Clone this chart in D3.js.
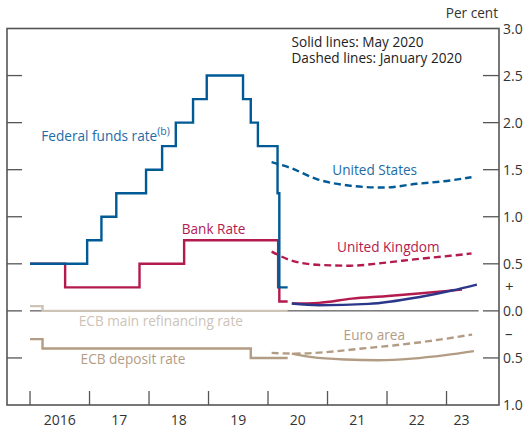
<!DOCTYPE html>
<html>
<head>
<meta charset="utf-8">
<script src="https://cdn.jsdelivr.net/npm/d3@7"></script>
<style>
  body { margin: 0; background: #fff; }
  text { font-family: "Open Sans", "Noto Sans", sans-serif; }
</style>
</head>
<body>
<div id="vis"></div>
<script>
// policy rates, [decimal year, per cent], step after
var fedFunds = [[2016.0, 0.5], [2016.96, 0.75], [2017.2, 1.0], [2017.45, 1.25], [2017.95, 1.5],
  [2018.22, 1.75], [2018.45, 2.0], [2018.74, 2.25], [2018.97, 2.5], [2019.58, 2.25],
  [2019.71, 2.0], [2019.83, 1.75], [2020.16, 1.25], [2020.19, 0.25], [2020.33, 0.25]];
var bankRate = [[2016.0, 0.5], [2016.59, 0.25], [2017.84, 0.5], [2018.59, 0.75],
  [2020.17, 0.25], [2020.19, 0.1], [2020.33, 0.1]];
var ecbMain = [[2016.0, 0.05], [2016.21, 0.0], [2020.33, 0.0]];
var ecbDeposit = [[2016.0, -0.3], [2016.21, -0.4], [2019.71, -0.5], [2020.33, -0.5]];

// market forward curves
var usJan = [[2020.06, 1.58], [2020.37, 1.52], [2020.82, 1.40], [2021.38, 1.33], [2021.94, 1.31],
  [2022.50, 1.35], [2023.06, 1.385], [2023.42, 1.42]];
var ukJan = [[2020.06, 0.63], [2020.37, 0.54], [2020.82, 0.49], [2021.38, 0.48], [2021.94, 0.51],
  [2022.50, 0.55], [2023.06, 0.585], [2023.42, 0.61]];
var euJan = [[2020.06, -0.446], [2020.46, -0.454], [2021.02, -0.436], [2021.58, -0.40],
  [2022.14, -0.365], [2022.70, -0.322], [2023.43, -0.252]];
var usMay = [[2020.40, 0.078], [2020.85, 0.06], [2021.69, 0.074], [2022.53, 0.145],
  [2023.09, 0.216], [2023.51, 0.28]];
var ukMay = [[2020.40, 0.078], [2020.85, 0.085], [2021.41, 0.13], [2021.97, 0.156],
  [2022.53, 0.184], [2023.26, 0.226]];
var euMay = [[2020.40, -0.454], [2020.74, -0.492], [2021.30, -0.517], [2021.86, -0.524],
  [2022.42, -0.507], [2022.98, -0.47], [2023.46, -0.428]];

var yTicks = [3.0, 2.5, 2.0, 1.5, 1.0, 0.5, 0.0, -0.5, -1.0];
var yTickLabels = ['3.0', '2.5', '2.0', '1.5', '1.0', '0.5', '0.0', '0.5', '1.0'];
var xTicks = [2016, 2017, 2018, 2019, 2020, 2021, 2022, 2023];
var xLabels = ['2016', '17', '18', '19', '20', '21', '22', '23'];
var xLabelPos = [2016.5, 2017.5, 2018.5, 2019.5, 2020.5, 2021.5, 2022.5, 2023.25];

var width = 528, height = 430;
var plotL = 7, plotR = 499, plotT = 28.5, plotB = 405;

var blue = '#005a96', blueText = '#1d6ca6', navy = '#2b388a', red = '#b31a4e',
  tan = '#b39c84', beige = '#cdc3b7', frame = '#555';
var fs = 13.6;

var x = d3.scaleLinear().domain([2015.613, 2023.882]).range([plotL, plotR]);
var y = d3.scaleLinear().domain([-1, 3]).range([plotB, plotT]);

var svg = d3.select('#vis').append('svg')
  .attr('width', width)
  .attr('height', height);

// ticks inside the frame
var inner = yTicks.filter(function (d) { return d > -1 && d < 3; });
svg.selectAll('.ltick').data(inner).enter().append('line')
  .attr('x1', plotL).attr('x2', plotL + 15)
  .attr('y1', function (d) { return y(d); }).attr('y2', function (d) { return y(d); })
  .attr('stroke', frame).attr('stroke-width', 1.3);
svg.selectAll('.rtick').data(inner).enter().append('line')
  .attr('x1', plotR - 16).attr('x2', plotR)
  .attr('y1', function (d) { return y(d); }).attr('y2', function (d) { return y(d); })
  .attr('stroke', frame).attr('stroke-width', 1.3);
svg.selectAll('.xtick').data(xTicks).enter().append('line')
  .attr('x1', function (d) { return x(d); }).attr('x2', function (d) { return x(d); })
  .attr('y1', plotB).attr('y2', plotB - 14)
  .attr('stroke', frame).attr('stroke-width', 1.3);

// zero line
svg.append('line')
  .attr('x1', x(2016)).attr('x2', x(2023.54))
  .attr('y1', y(0)).attr('y2', y(0))
  .attr('stroke', '#333').attr('stroke-width', 1);

// frame
svg.append('rect')
  .attr('x', plotL).attr('y', plotT)
  .attr('width', plotR - plotL).attr('height', plotB - plotT)
  .attr('fill', 'none').attr('stroke', frame).attr('stroke-width', 1.6);

// axis labels
svg.selectAll('.ylab').data(yTicks).enter().append('text')
  .attr('x', plotR + 4)
  .attr('y', function (d) { return y(d) + 5; })
  .attr('font-size', 14).attr('fill', '#333')
  .text(function (d, i) { return yTickLabels[i]; });
svg.append('text').attr('x', plotR + 6).attr('y', y(0.25) + 5)
  .attr('font-size', 15).attr('fill', '#333').text('+');
svg.append('text').attr('x', plotR + 6).attr('y', y(-0.25) + 5)
  .attr('font-size', 15).attr('fill', '#333').text('\u2013');
svg.append('text').attr('x', plotR - 1).attr('y', 18)
  .attr('text-anchor', 'end').attr('font-size', fs).attr('fill', '#333').text('Per cent');
svg.selectAll('.xlab').data(xLabels).enter().append('text')
  .attr('x', function (d, i) { return x(xLabelPos[i]); })
  .attr('y', 425)
  .attr('text-anchor', 'middle').attr('font-size', 14).attr('fill', '#333')
  .text(function (d) { return d; });

var step = d3.line()
  .x(function (d) { return x(d[0]); })
  .y(function (d) { return y(d[1]); })
  .curve(d3.curveStepAfter);
var smooth = d3.line()
  .x(function (d) { return x(d[0]); })
  .y(function (d) { return y(d[1]); })
  .curve(d3.curveMonotoneX);

function draw(data, gen, color, dashed) {
  svg.append('path')
    .attr('d', gen(data))
    .attr('fill', 'none')
    .attr('stroke', color)
    .attr('stroke-width', 2.4)
    .attr('stroke-dasharray', dashed ? '7,4' : null);
}

draw(ecbMain, step, beige);
draw(ecbDeposit, step, tan);
draw(euJan, smooth, tan, true);
draw(euMay, smooth, tan);
draw(bankRate, step, red);
draw(fedFunds, step, blue);
draw(ukJan, smooth, red, true);
draw(usJan, smooth, blue, true);
draw(ukMay, smooth, red);
draw(usMay, smooth, navy);

// annotations
function label(txt, t, v, color) {
  return svg.append('text')
    .attr('x', x(t)).attr('y', y(v))
    .attr('font-size', fs).attr('fill', color)
    .text(txt);
}
var ff = label('Federal funds rate', 2016.19, 1.8, blueText);
ff.append('tspan').attr('font-size', 10.5).attr('dy', -6).text('(b)');
label('Bank Rate', 2018.55, 0.82, red);
label('United States', 2021.08, 1.44, blueText);
label('United Kingdom', 2021.16, 0.63, red);
label('ECB main refinancing rate', 2016.82, -0.16, beige);
label('ECB deposit rate', 2016.85, -0.56, tan);
label('Euro area', 2021.27, -0.305, tan);

svg.append('text').attr('x', 291.5).attr('y', 47)
  .attr('font-size', fs).attr('fill', '#222').text('Solid lines: May 2020');
svg.append('text').attr('x', 291.5).attr('y', 63)
  .attr('font-size', fs).attr('fill', '#222').text('Dashed lines: January 2020');
</script>
</body>
</html>
